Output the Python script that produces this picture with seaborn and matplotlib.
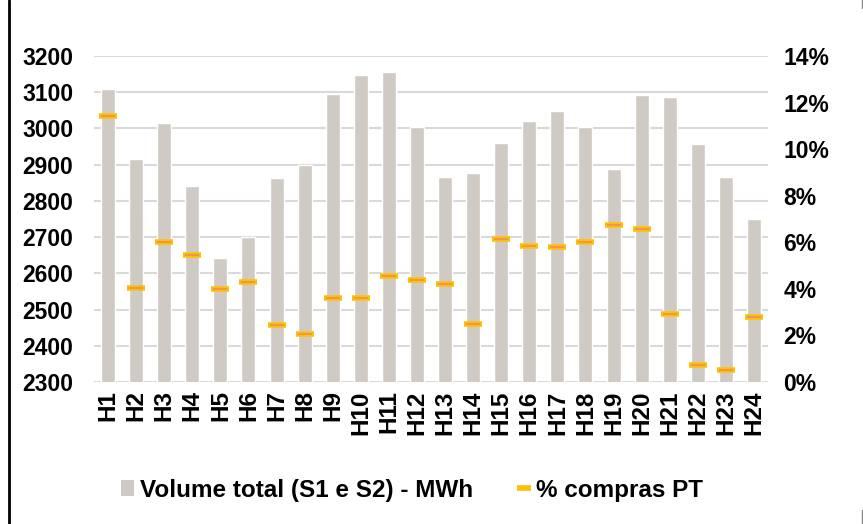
import matplotlib
matplotlib.use("Agg")
import matplotlib.pyplot as plt
import seaborn as sns
import pandas as pd
from matplotlib.patches import Patch
from matplotlib.lines import Line2D
from matplotlib.ticker import FuncFormatter

hours = [f"H{i}" for i in range(1, 25)]
volume = [3108, 2916, 3015, 2841, 2643, 2700, 2862, 2899, 3096, 3148, 3157, 3005,
          2867, 2878, 2961, 3020, 3049, 3004, 2888, 3092, 3087, 2958, 2866, 2751]
pct_pt = [11.42, 4.03, 6.00, 5.45, 4.00, 4.30, 2.43, 2.06, 3.59, 3.60, 4.57, 4.38,
          4.20, 2.49, 6.12, 5.84, 5.79, 6.00, 6.73, 6.59, 2.90, 0.71, 0.50, 2.80]
left_ticks = list(range(2300, 3201, 100))
right_ticks = list(range(0, 15, 2))
label_bar = "Volume total (S1 e S2) - MWh"
label_pct = "% compras PT"

sns.set_theme(style="white")
plt.rcParams["font.family"] = ["Liberation Sans", "DejaVu Sans"]
plt.rcParams["font.weight"] = "bold"
plt.rcParams["text.color"] = "black"
plt.rcParams["xtick.color"] = "black"
plt.rcParams["ytick.color"] = "black"
plt.rcParams["xtick.labelcolor"] = "black"
plt.rcParams["ytick.labelcolor"] = "black"

BAR = "#CFCBC4"
YEL = "#FFC000"
ORG = "#F08C5A"
FS_Y = 16.5
FS_X = 17.5
FS_L = 17.5

fig = plt.figure(figsize=(8.63, 5.24), dpi=100)
ax = fig.add_axes([94/863, 1-382/524, (768-94)/863, (382-56)/524])

df = pd.DataFrame({"hour": hours, "volume": volume, "pct": pct_pt})
sns.barplot(data=df, x="hour", y="volume", color=BAR, width=0.5, ax=ax,
            saturation=1, zorder=2)
ax.set_ylim(2300, 3200)
ax.set_xlim(-0.5, 23.5)
ax.set_yticks(left_ticks)
ax.grid(axis="y", color="#D9D9D9", linewidth=1.5, zorder=0)
ax.grid(axis="x", visible=False)
ax.set_axisbelow(True)
for s in ax.spines.values():
    s.set_visible(False)
ax.set_xlabel("")
ax.set_ylabel("")
ax.tick_params(axis="y", length=0, pad=15, labelsize=FS_Y, labelcolor="black")
ax.tick_params(axis="x", length=0, pad=6, labelsize=FS_X, rotation=90, labelcolor="black")
for t in ax.get_yticklabels() + ax.get_xticklabels():
    t.set_fontweight("bold")

ax2 = ax.twinx()
ax2.set_ylim(0, 14)
ax2.plot(range(24), pct_pt, linestyle="none", marker="_", markersize=13,
         markeredgewidth=4.0, color=YEL, zorder=3)
ax2.plot(range(24), pct_pt, linestyle="none", marker="_", markersize=10,
         markeredgewidth=1.2, color=ORG, zorder=4)
ax2.set_yticks(right_ticks)
ax2.yaxis.set_major_formatter(FuncFormatter(lambda v, p: f"{int(v)}%"))
ax2.tick_params(axis="y", length=0, pad=11, labelsize=FS_Y, labelcolor="black")
for t in ax2.get_yticklabels():
    t.set_fontweight("bold")
ax2.grid(False)
for s in ax2.spines.values():
    s.set_visible(False)

handles = [
    Patch(facecolor=BAR, edgecolor="none"),
    Line2D([0], [0], linestyle="none", marker="_", markersize=10,
           markeredgewidth=4, color=YEL),
]
leg = fig.legend(handles, [label_bar, label_pct], loc="center",
                 bbox_to_anchor=(412/863, 1-490/524), ncol=2, frameon=False,
                 prop={"size": FS_L, "weight": "bold"}, handlelength=0.55,
                 handleheight=0.6, handletextpad=0.25, columnspacing=1.8)
for t in leg.get_texts():
    t.set_color("black")

# frame border on the left
fig.add_artist(Line2D([9/863, 9/863], [0, 1], color="black", linewidth=2,
                      transform=fig.transFigure))
fig.add_artist(Line2D([861.5/863, 861.5/863], [1-8/524, 1], color="#888888",
                      linewidth=1, transform=fig.transFigure))
fig.add_artist(Line2D([861.5/863, 861.5/863], [0, 14/524], color="#888888",
                      linewidth=1, transform=fig.transFigure))

fig.savefig("out.png", dpi=100)
